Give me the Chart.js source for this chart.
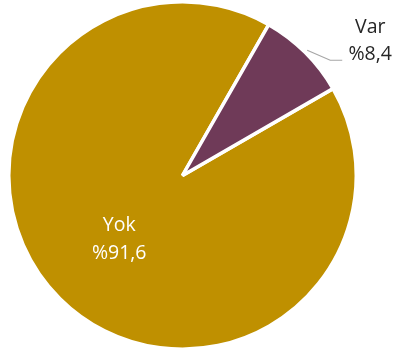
<!DOCTYPE html>
<html>
<head>
<meta charset="utf-8">
<script src="https://cdn.jsdelivr.net/npm/chart.js@4/dist/chart.umd.min.js"></script>
<style>
  html, body { margin: 0; padding: 0; background: #fff; }
  #wrap { width: 393px; height: 353px; }
</style>
</head>
<body>
<div id="wrap"><canvas id="pie"></canvas></div>
<script>
// Answers and their shares (percent)
const labels = ['Yok', 'Var'];
const values = [91.6, 8.4];
const colors = ['#BF9000', '#6F3A58'];

const fontFamily = '"Open Sans", "Noto Sans", sans-serif';

function pctText(v) {
    return '%' + v.toFixed(1).replace('.', ',');
}

// Draws the category name + percentage for each slice
const sliceLabels = {
    id: 'sliceLabels',
    afterDatasetsDraw(chart) {
        const ctx = chart.ctx;
        const meta = chart.getDatasetMeta(0);
        ctx.save();
        ctx.font = '19.5px ' + fontFamily;
        ctx.textAlign = 'center';
        ctx.textBaseline = 'middle';
        meta.data.forEach((arc, i) => {
            const p = arc.getProps(['x', 'y', 'startAngle', 'endAngle', 'outerRadius']);
            const mid = (p.startAngle + p.endAngle) / 2;
            const text = [labels[i], pctText(values[i])];
            if (i == 0) {
                // big slice: label inside, halfway out
                const r = p.outerRadius * 0.5;
                const x = p.x + Math.cos(mid) * r - 2;
                const y = p.y + Math.sin(mid) * r + 2;
                ctx.fillStyle = '#ffffff';
                ctx.fillText(text[0], x, y - 14);
                ctx.fillText(text[1], x, y + 14);
            } else {
                // small slice: label outside with a leader line
                const sx = p.x + Math.cos(mid) * (p.outerRadius + 3);
                const sy = p.y + Math.sin(mid) * (p.outerRadius + 3);
                const ex = sx + 23, ey = sy + 10;
                ctx.strokeStyle = '#a6a6a6';
                ctx.lineWidth = 1.2;
                ctx.beginPath();
                ctx.moveTo(sx, sy);
                ctx.lineTo(ex, ey);
                ctx.lineTo(ex + 12, ey);
                ctx.stroke();
                ctx.fillStyle = '#262626';
                const tx = ex + 40;
                ctx.fillText(text[0], tx, ey - 33);
                ctx.fillText(text[1], tx, ey - 6);
            }
        });
        ctx.restore();
    }
};

new Chart(document.getElementById('pie'), {
    type: 'pie',
    data: {
        labels: labels,
        datasets: [{
            data: values,
            backgroundColor: colors,
            borderColor: '#ffffff',
            borderWidth: 3.5
        }]
    },
    options: {
        responsive: true,
        maintainAspectRatio: false,
        animation: false,
        rotation: 60,
        layout: { padding: { left: 7, right: 35, top: 0, bottom: 2 } },
        plugins: {
            legend: { display: false },
            tooltip: { enabled: false }
        }
    },
    plugins: [sliceLabels]
});
</script>
</body>
</html>
